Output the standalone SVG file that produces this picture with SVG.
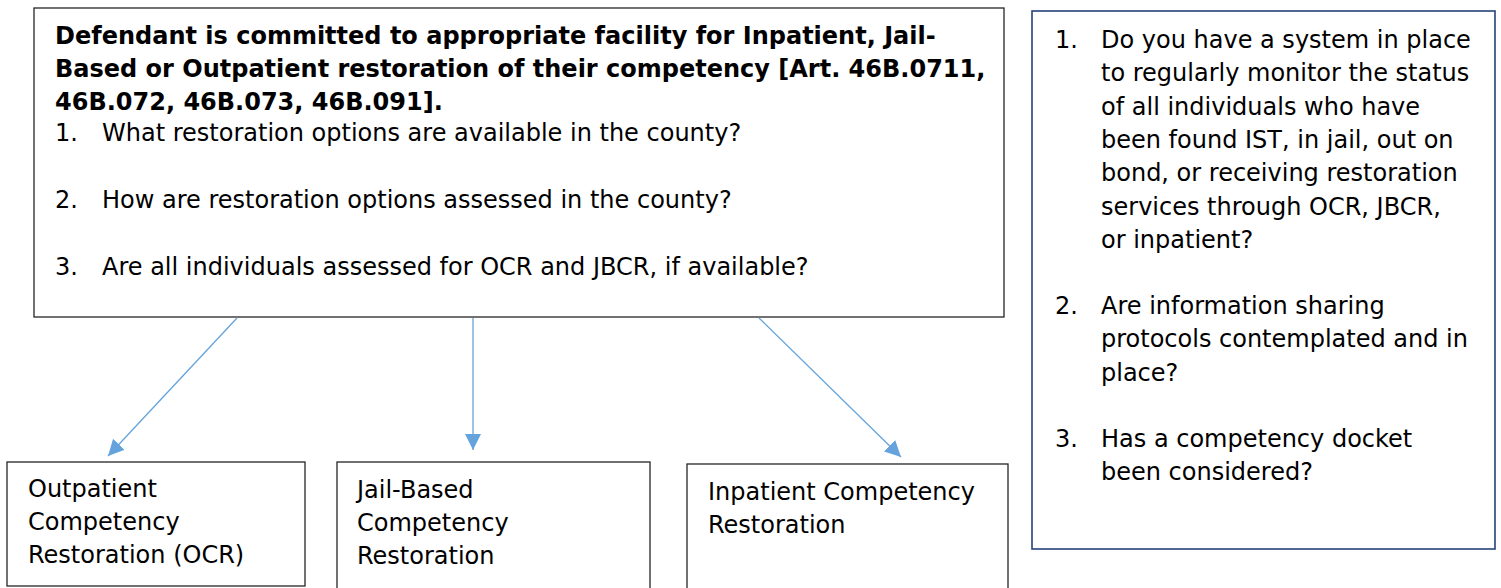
<svg xmlns="http://www.w3.org/2000/svg" width="1501" height="588" viewBox="0 0 1501 588">
  <style>
    .box { fill: #ffffff; stroke: #262626; stroke-width: 1.3; }
    .side { fill: #ffffff; stroke: #24437a; stroke-width: 1.6; }
    .t { font-family: "DejaVu Sans", Verdana, sans-serif; font-size: 24px; fill: #000000; }
    .b { font-weight: bold; }
    .link { stroke: #64a3dc; stroke-width: 1.3; fill: none; marker-end: url(#head); }
  </style>
  <defs>
    <marker id="head" markerUnits="userSpaceOnUse" markerWidth="17" markerHeight="17" viewBox="0 0 17 17" refX="16" refY="8.5" orient="auto">
      <path d="M0,0.5 L16,8.5 L0,16.5 Z" fill="#64a3dc"/>
    </marker>
  </defs>

  <!-- commitment box -->
  <g id="commitment">
    <rect class="box" x="34" y="8" width="970" height="309"/>
    <text class="t b" x="55" y="44">Defendant is committed to appropriate facility for Inpatient, Jail-</text>
    <text class="t b" x="55" y="77">Based or Outpatient restoration of their competency [Art. 46B.0711,</text>
    <text class="t b" x="55" y="110">46B.072, 46B.073, 46B.091].</text>
    <text class="t" x="55" y="141">1.</text>
    <text class="t" x="102" y="141">What restoration options are available in the county?</text>
    <text class="t" x="55" y="208">2.</text>
    <text class="t" x="102" y="208">How are restoration options assessed in the county?</text>
    <text class="t" x="55" y="275">3.</text>
    <text class="t" x="102" y="275">Are all individuals assessed for OCR and JBCR, if available?</text>
  </g>

  <!-- monitoring questions -->
  <g id="monitoring">
    <rect class="side" x="1032" y="11" width="463" height="538"/>
    <text class="t" x="1055" y="48">1.</text>
    <text class="t" x="1101" y="48">Do you have a system in place</text>
    <text class="t" x="1101" y="81.3">to regularly monitor the status</text>
    <text class="t" x="1101" y="114.6">of all individuals who have</text>
    <text class="t" x="1101" y="148">been found IST, in jail, out on</text>
    <text class="t" x="1101" y="181.3">bond, or receiving restoration</text>
    <text class="t" x="1101" y="214.6">services through OCR, JBCR,</text>
    <text class="t" x="1101" y="248">or inpatient?</text>
    <text class="t" x="1055" y="314">2.</text>
    <text class="t" x="1101" y="314">Are information sharing</text>
    <text class="t" x="1101" y="347.3">protocols contemplated and in</text>
    <text class="t" x="1101" y="380.6">place?</text>
    <text class="t" x="1055" y="447">3.</text>
    <text class="t" x="1101" y="447">Has a competency docket</text>
    <text class="t" x="1101" y="480.3">been considered?</text>
  </g>

  <!-- restoration settings -->
  <g id="ocr">
    <rect class="box" x="7" y="462" width="298" height="124"/>
    <text class="t" x="28" y="497">Outpatient</text>
    <text class="t" x="28" y="530">Competency</text>
    <text class="t" x="28" y="563">Restoration (OCR)</text>
  </g>
  <g id="jbcr">
    <rect class="box" x="337" y="462" width="313" height="140"/>
    <text class="t" x="357" y="498">Jail-Based</text>
    <text class="t" x="357" y="531">Competency</text>
    <text class="t" x="357" y="564">Restoration</text>
  </g>
  <g id="inpatient">
    <rect class="box" x="687" y="464" width="321" height="140"/>
    <text class="t" x="708" y="500">Inpatient Competency</text>
    <text class="t" x="708" y="533">Restoration</text>
  </g>

  <!-- connectors -->
  <g id="connectors">
    <line class="link" x1="237" y1="318" x2="108" y2="456"/>
    <line class="link" x1="473" y1="318" x2="473" y2="450"/>
    <line class="link" x1="759" y1="318" x2="901" y2="457"/>
  </g>
</svg>
